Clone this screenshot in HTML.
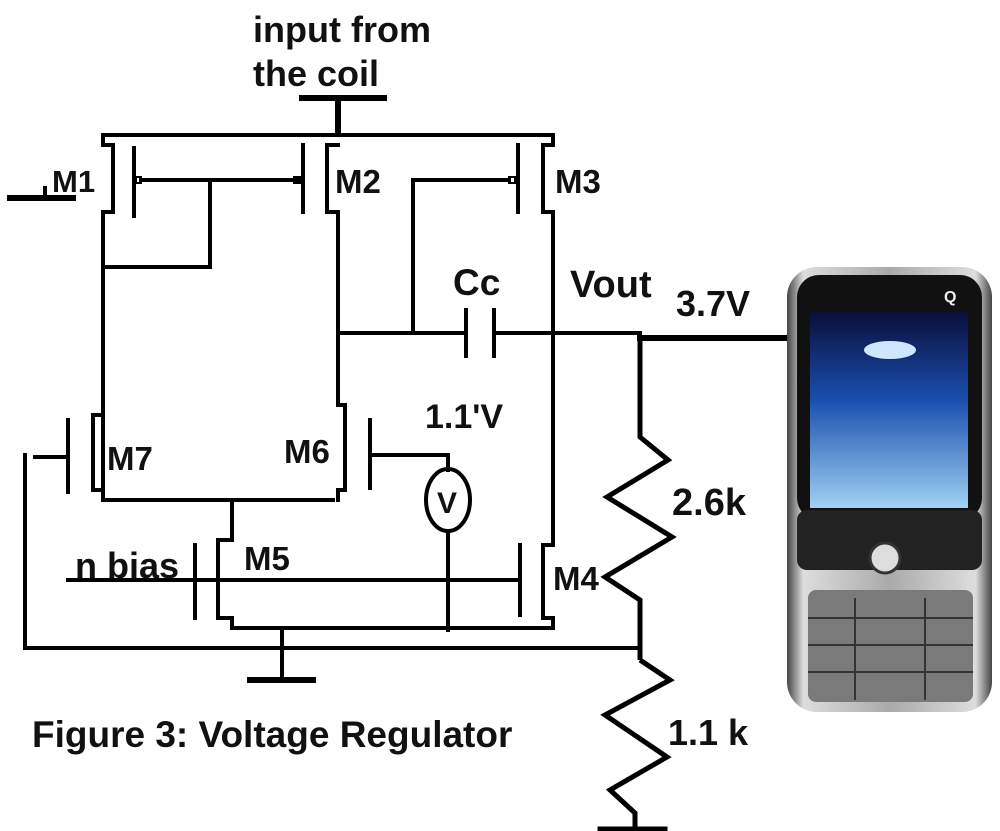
<!DOCTYPE html>
<html><head><style>
html,body{margin:0;padding:0;background:#fff;}
svg{display:block;}
text{font-family:"Liberation Sans",Arial,sans-serif;font-weight:bold;fill:#111;}
</style></head><body>
<svg width="1000" height="831" viewBox="0 0 1000 831" xmlns="http://www.w3.org/2000/svg">
<defs>
<linearGradient id="body" x1="0" x2="1" y1="0" y2="0">
<stop offset="0" stop-color="#444"/><stop offset="0.08" stop-color="#ddd"/><stop offset="0.5" stop-color="#aaa"/><stop offset="0.92" stop-color="#ddd"/><stop offset="1" stop-color="#444"/></linearGradient>
<linearGradient id="scr" x1="0" x2="0" y1="0" y2="1">
<stop offset="0" stop-color="#0a0e3a"/><stop offset="0.45" stop-color="#1a4fb0"/><stop offset="1" stop-color="#9fd2f2"/></linearGradient>
</defs>
<g fill="none" stroke="#000" stroke-width="4" stroke-linecap="square">
<line x1="302" y1="98" x2="384" y2="98" stroke-width="6"/>
<line x1="338" y1="98" x2="338" y2="134" stroke-width="6"/>
<polyline points="103,145 103,135 553,135 553,145"/>
<polyline points="103,145 113,145 113,212 103,212 103,500"/>
<line x1="134" y1="148" x2="134" y2="216"/>
<rect x="136" y="177" width="5" height="6" stroke-width="2"/>
<line x1="141" y1="180" x2="300" y2="180"/>
<polyline points="210,182 210,267 103,267"/>
<line x1="10" y1="198" x2="73" y2="198" stroke-width="6"/>
<line x1="45" y1="188" x2="45" y2="198"/>
<line x1="303" y1="145" x2="303" y2="212"/>
<rect x="294" y="177" width="6" height="6" stroke-width="2"/>
<polyline points="338,145 327,145 327,212 338,212 338,405"/>
<line x1="518" y1="145" x2="518" y2="212"/>
<rect x="509" y="177" width="6" height="6" stroke-width="2"/>
<polyline points="553,145 543,145 543,212 553,212 553,545"/>
<polyline points="509,180 413,180 413,333"/>
<line x1="338" y1="333" x2="466" y2="333"/>
<line x1="466" y1="310" x2="466" y2="356"/>
<line x1="494" y1="310" x2="494" y2="356"/>
<line x1="494" y1="333" x2="640" y2="333"/>
<line x1="640" y1="338" x2="795" y2="338" stroke-width="6"/>
<polyline points="640,336 640,437 668,460 607,497 672,537 605,577 640,600 640,660" stroke-width="5" stroke-linecap="butt"/>
<polyline points="640,660 670,680 605,715 667,757 610,790 635,813 635,829" stroke-width="5" stroke-linecap="butt"/>
<line x1="600" y1="829" x2="665" y2="829" stroke-width="5"/>
<polyline points="338,405 345,405 345,490 338,490 338,500"/>
<line x1="370" y1="420" x2="370" y2="488"/>
<polyline points="372,455 448,455 448,470"/>
<ellipse cx="448" cy="500" rx="22" ry="31"/>
<line x1="448" y1="531" x2="448" y2="630"/>
<polyline points="103,415 93,415 93,490 103,490 103,500 333,500"/>
<line x1="68" y1="420" x2="68" y2="492"/>
<line x1="35" y1="457" x2="68" y2="457"/>
<polyline points="25,455 25,648 640,648"/>
<polyline points="232,500 232,540 218,540 218,618 232,618 232,628 553,628 553,618 543,618 543,545 553,545"/>
<line x1="195" y1="545" x2="195" y2="618"/>
<line x1="68" y1="580" x2="518" y2="580"/>
<line x1="520" y1="545" x2="520" y2="615"/>
<line x1="282" y1="628" x2="282" y2="680"/>
<line x1="250" y1="680" x2="313" y2="680" stroke-width="6"/>
</g>
<text x="253" y="42" font-size="36">input from</text>
<text x="253" y="86" font-size="36">the coil</text>
<text x="52" y="192" font-size="31">M1</text>
<text x="335" y="193" font-size="33">M2</text>
<text x="555" y="193" font-size="33">M3</text>
<text x="453" y="295" font-size="37">Cc</text>
<text x="570" y="297" font-size="38">Vout</text>
<text x="676" y="316" font-size="36">3.7V</text>
<text x="425" y="428" font-size="34">1.1'V</text>
<text x="437" y="513" font-size="30">V</text>
<text x="107" y="470" font-size="33">M7</text>
<text x="284" y="463" font-size="33">M6</text>
<text x="75" y="578" font-size="36">n bias</text>
<text x="244" y="570" font-size="33">M5</text>
<text x="553" y="590" font-size="33">M4</text>
<text x="672" y="515" font-size="38">2.6k</text>
<text x="668" y="745" font-size="36">1.1 k</text>
<text x="32" y="747" font-size="37">Figure 3: Voltage Regulator</text>
<rect x="787" y="267" width="205" height="445" rx="30" fill="url(#body)"/>
<rect x="797" y="275" width="185" height="245" rx="22" fill="#111"/>
<rect x="810" y="312" width="158" height="196" fill="url(#scr)"/>
<ellipse cx="890" cy="350" rx="26" ry="9" fill="#cfe6ff"/>
<rect x="797" y="510" width="185" height="60" rx="10" fill="#222"/>
<circle cx="885" cy="558" r="15" fill="#ddd" stroke="#333" stroke-width="3"/>
<rect x="808" y="590" width="165" height="112" rx="8" fill="#7a7a7a"/>
<g stroke="#333" stroke-width="2">
<line x1="808" y1="618" x2="973" y2="618"/><line x1="808" y1="645" x2="973" y2="645"/><line x1="808" y1="672" x2="973" y2="672"/>
<line x1="855" y1="598" x2="855" y2="700"/><line x1="925" y1="598" x2="925" y2="700"/>
</g>
<text x="944" y="302" font-size="16" style="fill:#eee">Q</text>
</svg>
</body></html>
